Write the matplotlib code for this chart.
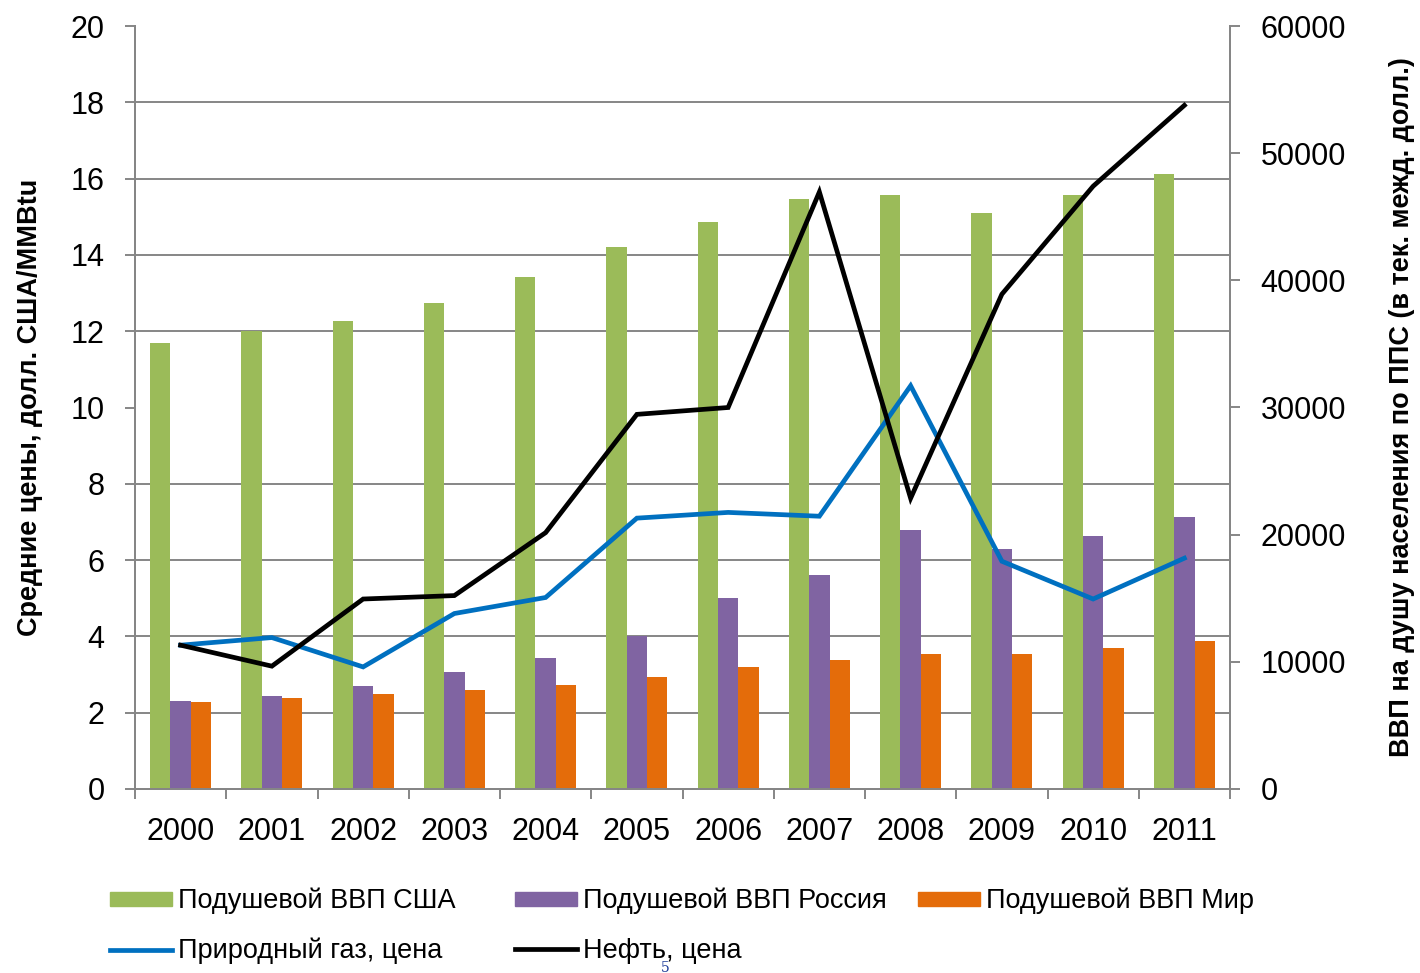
import numpy as np
import matplotlib
matplotlib.use('Agg')
import matplotlib.pyplot as plt
from matplotlib.patches import Patch
from matplotlib.lines import Line2D

plt.rcParams['font.family'] = ['Liberation Sans', 'DejaVu Sans']

# data
years = ['2000', '2001', '2002', '2003', '2004', '2005',
         '2006', '2007', '2008', '2009', '2010', '2011']
gdp_usa = [35100, 36000, 36800, 38200, 40300, 42600, 44600, 46400, 46700, 45300, 46700, 48400]
gdp_russia = [6900, 7300, 8100, 9200, 10300, 12000, 15000, 16800, 20400, 18900, 19900, 21400]
gdp_world = [6850, 7150, 7500, 7800, 8200, 8800, 9600, 10150, 10600, 10600, 11050, 11650]
gas_price = [3.77, 3.97, 3.2, 4.6, 5.02, 7.1, 7.25, 7.15, 10.57, 5.97, 4.98, 6.05]
oil_price = [3.77, 3.22, 4.98, 5.07, 6.72, 9.82, 10.0, 15.65, 7.62, 12.97, 15.8, 17.92]

c_usa = '#9BBB59'
c_rus = '#8064A2'
c_world = '#E46C0A'
c_gas = '#0070C0'
c_oil = '#000000'
c_axis = '#868686'

fig = plt.figure(figsize=(14.2, 9.73), dpi=100)
ax = fig.add_axes([135/1420, 1-789/973, (1230-135)/1420, (789-26)/973])
ax2 = ax.twinx()

x = np.arange(len(years))
w = 0.222
ax2.bar(x - w, gdp_usa, w, color=c_usa, zorder=2)
ax2.bar(x, gdp_russia, w, color=c_rus, zorder=2)
ax2.bar(x + w, gdp_world, w, color=c_world, zorder=2)

ax.plot(x, gas_price, color=c_gas, lw=3.4, solid_joinstyle='miter')
ax.plot(x, oil_price, color=c_oil, lw=3.4, solid_joinstyle='miter')

ax.set_zorder(ax2.get_zorder() + 1)
ax.patch.set_visible(False)

ax.set_xlim(-0.5, len(years) - 0.5)
ax.set_ylim(0, 20)
ax2.set_ylim(0, 60000)

# gridlines follow the left scale, drawn behind the bars
ax2.set_yticks(np.arange(0, 60001, 6000), minor=True)
ax2.yaxis.grid(True, which='minor', color=c_axis, lw=1.4, zorder=0)
ax2.tick_params(axis='y', which='minor', length=0)
ax2.set_axisbelow(True)

ax.set_yticks(np.arange(0, 21, 2))
ax2.set_yticks(np.arange(0, 60001, 10000))
ax.set_xticks(np.arange(-0.5, len(years), 1))
ax.set_xticklabels([])
ax.set_xticks(x, minor=True)
ax.set_xticklabels(years, minor=True)

ax.tick_params(axis='y', direction='out', length=7, width=1.4, color=c_axis,
               labelsize=22, pad=15)
ax2.tick_params(axis='y', which='major', direction='out', length=7, width=1.4,
                color=c_axis, labelsize=22, pad=15)
ax.tick_params(axis='x', which='major', direction='out', length=7, width=1.4, color=c_axis)
ax.tick_params(axis='x', which='minor', length=0, labelsize=22, pad=20)
ax2.tick_params(axis='x', length=0)

for a in (ax, ax2):
    a.spines['top'].set_visible(False)
    for s in ('left', 'right', 'bottom'):
        a.spines[s].set_color(c_axis)
        a.spines[s].set_linewidth(1.4)

ax.set_ylabel('Средние цены, долл. США/MMBtu', fontsize=19.5, fontweight='bold', labelpad=20)
ax2.set_ylabel('ВВП на душу населения по ППС (в тек. межд. долл.)', fontsize=19.5,
               fontweight='bold', labelpad=31)

# legend laid out as in the picture: 3 entries in row one, 2 in row two
h_usa = Patch(color=c_usa, label='Подушевой ВВП США')
h_rus = Patch(color=c_rus, label='Подушевой ВВП Россия')
h_world = Patch(color=c_world, label='Подушевой ВВП Мир')
h_gas = Line2D([], [], color=c_gas, lw=3.4, label='Природный газ, цена')
h_oil = Line2D([], [], color=c_oil, lw=3.4, label='Нефть, цена')

cols = [([h_usa, h_gas], 110), ([h_rus, h_oil], 515), ([h_world], 918)]
for hs, px in cols:
    leg = fig.legend(handles=hs, loc='upper left', bbox_to_anchor=(px/1420, 1-888/973),
                     frameon=False, fontsize=19.5, handlelength=2.3, handleheight=0.45,
                     handletextpad=0.2, labelspacing=0.85, borderaxespad=0, borderpad=0)

fig.text(665/1420, 1-968/973, '5', color='#1F3D99', fontsize=10, family='serif',
         ha='center', va='center')

fig.savefig('out.png', dpi=100)
